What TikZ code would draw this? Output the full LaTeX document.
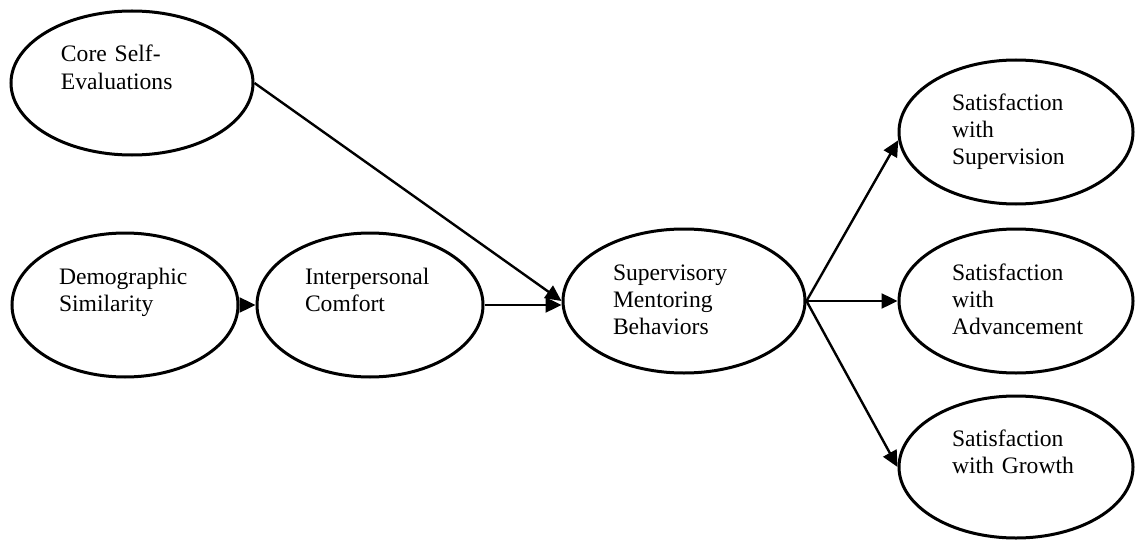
\documentclass[tikz,border=0pt]{standalone}
\usepackage{fontspec}
\setmainfont{Liberation Serif}
\usepackage{tikz}
\usetikzlibrary{shapes,arrows.meta}

\begin{document}
\begin{tikzpicture}[x=0.5pt,y=0.5pt]
\tikzset{
  oval/.style={draw, ellipse, line width=1.5pt, inner sep=0pt,
    minimum height=72pt, align=left, text height=10pt, text depth=31pt,
    font=\fontsize{11.8}{13.5}\selectfont},
  link/.style={line width=1.2pt, -{Triangle[length=8pt,width=7.5pt]}}
}
\useasboundingbox (0,0) rectangle (1135,-540);
% predictors
\node[oval, minimum width=121pt, text width=71pt] (core) at (132,-83) {Core Self-\\Evaluations};
\node[oval, minimum width=113pt, text width=66pt] (demo) at (125,-305) {Demographic\\Similarity};
\node[oval, minimum width=113pt, text width=65pt] (inter) at (370,-305) {Interpersonal\\Comfort};
\node[oval, minimum width=121pt, text width=71pt] (super) at (684,-301) {Supervisory\\Mentoring\\Behaviors};
% outcomes
\node[oval, minimum width=117pt, text width=64pt] (supv) at (1016,-132) {Satisfaction\\with\\Supervision};
\node[oval, minimum width=117pt, text width=64pt] (adv) at (1016,-301) {Satisfaction\\with\\Advancement};
\node[oval, minimum width=117pt, minimum height=71pt, text width=64pt] (grow) at (1016,-467) {Satisfaction\\with Growth};
% paths
\draw[link] (core.east) -- (super.west);
\draw[link] (demo.east) -- (inter.west);
\draw[link] (inter.east) -- (inter.east -| super.west);
\draw[link] (super.east) -- (supv.184);
\draw[link] (super.east) -- (adv.west);
\draw[link] (super.east) -- (grow.west);
\end{tikzpicture}
\end{document}
